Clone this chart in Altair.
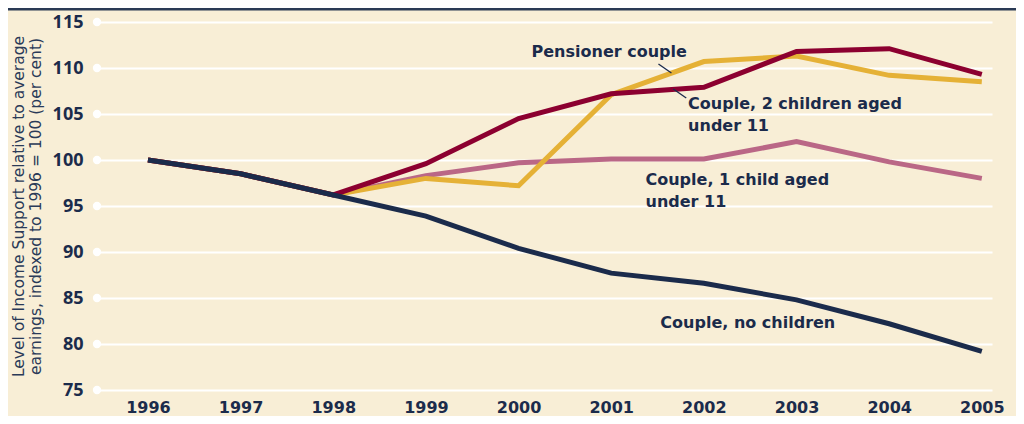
import altair as alt
import pandas as pd

years = [1996, 1997, 1998, 1999, 2000, 2001, 2002, 2003, 2004, 2005]
no_children = [100.0, 98.5, 96.2, 93.9, 90.4, 87.7, 86.6, 84.8, 82.2, 79.2]
pensioner = [100.0, 98.5, 96.2, 98.0, 97.2, 107.1, 110.7, 111.3, 109.2, 108.5]
two_children = [100.0, 98.5, 96.2, 99.6, 104.5, 107.2, 107.9, 111.8, 112.1, 109.3]
one_child = [100.0, 98.5, 96.2, 98.3, 99.7, 100.1, 100.1, 102.0, 99.8, 98.0]

series_names = ["Couple, 1 child aged under 11", "Pensioner couple",
                "Couple, 2 children aged under 11", "Couple, no children"]
series_colors = ["#BA6786", "#E5B136", "#8C0030", "#1B2B4B"]
y_ticks = [75, 80, 85, 90, 95, 100, 105, 110, 115]

label_text = ["Pensioner couple", "Couple, 2 children aged", "under 11",
              "Couple, 1 child aged", "under 11", "Couple, no children"]
label_x = [2000.14, 2001.83, 2001.83, 2001.37, 2001.37, 2001.53]
label_y = [111.74, 106.09, 103.70, 97.83, 95.43, 82.28]

leader_x = [2001.51, 2001.67]
leader_x2 = [2001.65, 2001.81]
leader_y = [110.43, 107.72]
leader_y2 = [109.46, 106.74]

NAVY = "#1B2B4B"
BG = "#F8EED6"

rows = []
for name, vals in zip(series_names, [one_child, pensioner, two_children, no_children]):
    for yr, v in zip(years, vals):
        rows.append({"series": name, "year": yr, "value": v})
df = pd.DataFrame(rows)

xscale = alt.Scale(domain=[1995.45, 2005.11], nice=False, zero=False)
yscale = alt.Scale(domain=[75, 115], nice=False, zero=False)

base_x = alt.X("year:Q", scale=xscale,
               axis=alt.Axis(values=years, format="d", title=None, grid=False,
                             ticks=False, domain=False, labelFontSize=16,
                             labelFontWeight="bold", labelColor=NAVY,
                             labelFont="DejaVu Sans", labelPadding=9))
base_y = alt.Y("value:Q", scale=yscale,
               axis=alt.Axis(values=y_ticks, grid=True, gridColor="white", gridWidth=2,
                             gridOpacity=1, ticks=False, domain=False, labelFontSize=18,
                             labelFontWeight="bold", labelColor=NAVY, labelFont="Open Sans",
                             labelPadding=14,
                             title=["Level of Income Support relative to average",
                                    "earnings, indexed to 1996 = 100 (per cent)"],
                             titleFont="DejaVu Sans", titleFontSize=15.5,
                             titleFontWeight="normal", titleColor="#2A3A58",
                             titleLineHeight=16.5, titlePadding=9))

line_layers = [
    alt.Chart(df[df.series == s]).mark_line(strokeWidth=5, color=c).encode(x=base_x, y=base_y)
    for s, c in zip(series_names, series_colors)
]

dots = alt.Chart(pd.DataFrame({"value": y_ticks})).mark_circle(
    color="white", opacity=1, size=70).encode(x=alt.value(0), y=alt.Y("value:Q", scale=yscale))

leaders = alt.Chart(pd.DataFrame({"x": leader_x, "x2": leader_x2, "y": leader_y, "y2": leader_y2})).mark_rule(
    color=NAVY, strokeWidth=1.3).encode(
    x=alt.X("x:Q", scale=xscale), x2="x2:Q",
    y=alt.Y("y:Q", scale=yscale), y2="y2:Q")

labels = alt.Chart(pd.DataFrame({"t": label_text, "x": label_x, "y": label_y})).mark_text(
    align="left", baseline="middle", font="DejaVu Sans", fontSize=16, fontWeight="bold",
    color=NAVY).encode(
    x=alt.X("x:Q", scale=xscale), y=alt.Y("y:Q", scale=yscale), text="t:N")

border = alt.Chart(pd.DataFrame({"a": [0]})).mark_rule(color="#2A3A55", strokeWidth=3).encode(
    x=alt.value(-89), x2=alt.value(895 + 24), y=alt.value(-13))

chart = alt.layer(dots, *line_layers, leaders, labels, border).properties(
    width=895, height=368,
    padding={"left": 89, "top": 14, "right": 24, "bottom": 26},
    autosize=alt.AutoSizeParams(type="none"),
    background=BG,
).configure_view(stroke=None)

chart.save("out.html", embed_options={"renderer": "svg", "actions": False})
